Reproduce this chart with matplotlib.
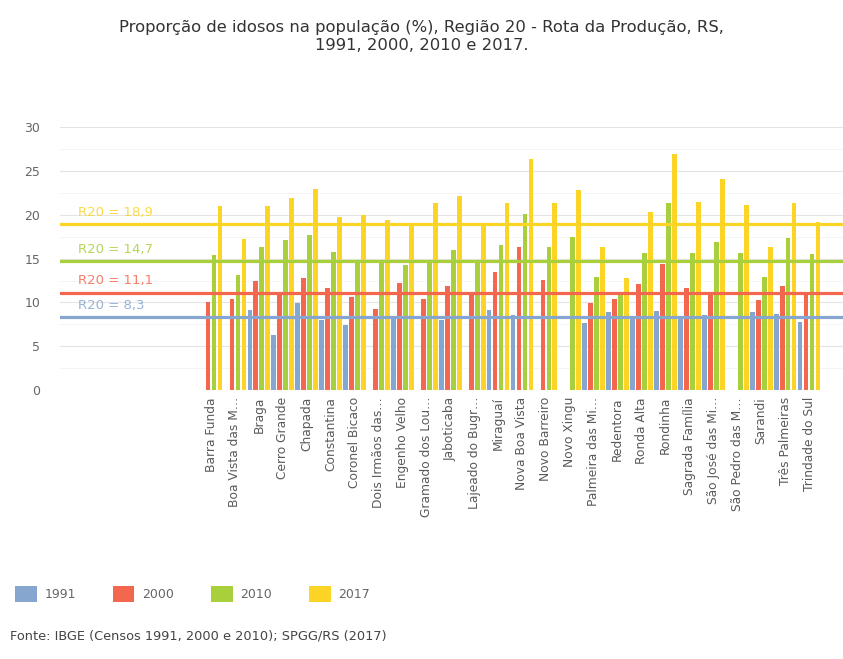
import numpy as np
import matplotlib
matplotlib.use('Agg')
import matplotlib.pyplot as plt
from matplotlib.patches import Patch

nan = np.nan

# municipalities (labels truncated as in the original)
municipios = ["Barra Funda", "Boa Vista das M\u2026", "Braga", "Cerro Grande", "Chapada",
              "Constantina", "Coronel Bicaco", "Dois Irm\u00e3os das\u2026", "Engenho Velho",
              "Gramado dos Lou\u2026", "Jaboticaba", "Lajeado do Bugr\u2026", "Miragua\u00ed",
              "Nova Boa Vista", "Novo Barreiro", "Novo Xingu", "Palmeira das Mi\u2026",
              "Redentora", "Ronda Alta", "Rondinha", "Sagrada Fam\u00edlia",
              "S\u00e3o Jos\u00e9 das Mi\u2026", "S\u00e3o Pedro das M\u2026", "Sarandi",
              "Tr\u00eas Palmeiras", "Trindade do Sul"]

v1991 = [nan, nan, 9.1, 6.3, 9.9, 8.0, 7.4, nan, 8.2, nan, 8.0, nan, 9.1,
         8.6, nan, nan, 7.7, 8.9, 8.4, 9.0, 8.4, 8.6, nan, 8.9, 8.7, 7.8]
v2000 = [10.0, 10.4, 12.5, 11.0, 12.8, 11.7, 10.6, 9.3, 12.2, 10.4, 11.9, 11.0, 13.5,
         16.3, 12.6, nan, 9.9, 10.4, 12.1, 14.4, 11.7, 11.0, nan, 10.3, 11.9, 11.0]
v2010 = [15.4, 13.1, 16.3, 17.1, 17.7, 15.8, 14.8, 14.8, 14.3, 14.8, 16.0, 14.8, 16.6,
         20.1, 16.3, 17.5, 12.9, 11.0, 15.6, 21.3, 15.6, 16.9, 15.6, 12.9, 17.4, 15.5]
v2017 = [21.0, 17.2, 21.0, 21.9, 23.0, 19.7, 20.0, 19.4, 18.8, 21.3, 22.2, 18.8, 21.3,
         26.4, 21.3, 22.8, 16.3, 12.8, 20.3, 26.9, 21.5, 24.1, 21.1, 16.3, 21.4, 19.2]

anos = ["1991", "2000", "2010", "2017"]
media_r20 = [8.3, 11.1, 14.7, 18.9]
media_txt = ["R20 = 8,3", "R20 = 11,1", "R20 = 14,7", "R20 = 18,9"]

cores = ["#86a5cf", "#f4674f", "#a8d03c", "#fcd425"]
series = [v1991, v2000, v2010, v2017]

fig = plt.figure(figsize=(8.43, 6.59), dpi=100)
ax = fig.add_axes([0.071, 0.408, 0.929, 0.399])

x = np.arange(len(municipios))
w = 0.25
for k, vals in enumerate(series):
    ax.bar(x + (k - 1.5) * w, vals, width=0.2, color=cores[k], zorder=2)

# regional averages
for k, m in enumerate(media_r20):
    ax.axhline(m, color=cores[k], lw=2.3, zorder=3)
    ax.annotate(media_txt[k], xy=(0.023, m), xycoords=('axes fraction', 'data'),
                xytext=(0, 4), textcoords='offset points', color=cores[k],
                fontsize=9.5, va='bottom', ha='left', alpha=0.85)

ax.set_ylim(0, 30)
ax.set_xlim(-6.32, 26.42)
ax.set_yticks(np.arange(0, 31, 5))
ax.set_yticks(np.arange(0, 30, 2.5), minor=True)
ax.grid(axis='y', which='major', color='#e4e4e4', lw=0.8, zorder=0)
ax.grid(axis='y', which='minor', color='#f2f2f2', lw=0.6, zorder=0)
ax.tick_params(axis='y', which='both', length=0, labelsize=9, colors='#666666', pad=14)
ax.set_xticks(x)
ax.set_xticklabels(municipios, rotation=90, fontsize=8.8, color='#5a5a5a')
ax.tick_params(axis='x', length=0, pad=5)
for s in ax.spines.values():
    s.set_visible(False)

fig.text(0.5, 0.97, "Propor\u00e7\u00e3o de idosos na popula\u00e7\u00e3o (%), Regi\u00e3o 20 - Rota da Produ\u00e7\u00e3o, RS,\n1991, 2000, 2010 e 2017.",
         ha='center', va='top', fontsize=11.8, color='#333333', linespacing=1.25)

handles = [Patch(facecolor=c, edgecolor='none') for c in cores]
fig.legend(handles, anos, loc='lower left', bbox_to_anchor=(0.005, 0.07), ncol=4,
           frameon=False, fontsize=9, handlelength=1.7, handleheight=1.5,
           columnspacing=3.0, handletextpad=0.6, labelcolor='#666666')

fig.text(0.012, 0.035, "Fonte: IBGE (Censos 1991, 2000 e 2010); SPGG/RS (2017)",
         fontsize=9.3, color='#444444', ha='left', va='center')

fig.savefig('out.png', dpi=100)
